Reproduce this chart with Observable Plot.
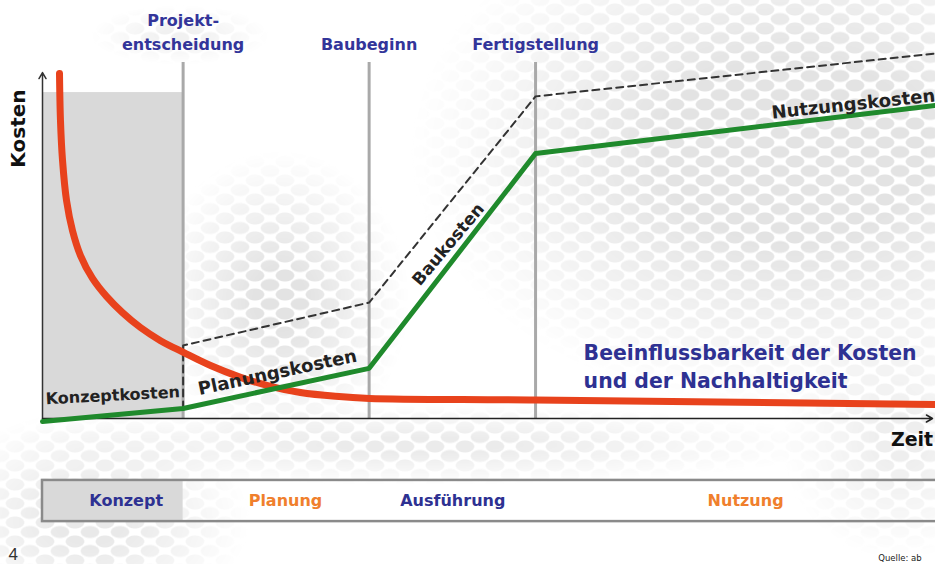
<!DOCTYPE html>
<html><head><meta charset="utf-8">
<script src="https://cdn.jsdelivr.net/npm/d3@7"></script>
<script src="https://cdn.jsdelivr.net/npm/@observablehq/plot@0.6"></script>
<style>
body{margin:0;background:#fff;}
#wrap{position:relative;width:935px;height:564px;}
#bg{position:absolute;left:0;top:0;width:935px;height:564px;
  background-image:
    radial-gradient(10px 6.5px at 50% 50%, #e3e3e3 85%, rgba(227,227,227,0) 100%),
    radial-gradient(10px 6.5px at 50% 50%, #e3e3e3 85%, rgba(227,227,227,0) 100%);
  background-size: 30px 19px, 30px 19px;
  background-position: 0 0, 15px 9.5px;
  -webkit-mask-image:
    radial-gradient(380px 260px at 790px 150px, #000 35%, rgba(0,0,0,0) 100%),
    radial-gradient(130px 150px at 280px 300px, #000 20%, rgba(0,0,0,0) 100%),
    radial-gradient(420px 40px at 420px 445px, rgba(0,0,0,0.7) 20%, rgba(0,0,0,0) 100%),
    radial-gradient(160px 110px at 90px 520px, rgba(0,0,0,0.8) 20%, rgba(0,0,0,0) 100%),
    radial-gradient(120px 120px at 900px 440px, rgba(0,0,0,0.6) 20%, rgba(0,0,0,0) 100%),
    radial-gradient(90px 30px at 180px 35px, rgba(0,0,0,0.5) 20%, rgba(0,0,0,0) 100%);
}
#chart{position:absolute;left:0;top:0;}
#chart svg{display:block;}
</style>
</head><body><div id="wrap"><div id="bg"></div><div id="chart"></div></div>
<script>
// Milestones (time units) and their labels
const milestoneNames = ["Projekt-\nentscheidung", "Baubeginn", "Fertigstellung"];
const milestoneTimes = [15.8, 36.7, 55.4];

// Phases in the bottom bar
const phaseNames = ["Konzept", "Planung", "Ausführung", "Nutzung"];
const phaseCenters = [9.4, 27.3, 46.1, 79.0];
const phaseColors = ["#2e3192", "#f07f2d", "#2e3192", "#f07f2d"];

// Cumulative cost (green)
const greenT = [0, 15.8, 36.7, 55.4, 100.3];
const greenC = [-0.9, 2.9, 14.5, 76.6, 90.5];

// Upper dashed envelope
const dashT = [15.8, 15.8, 36.7, 55.4, 100.3];
const dashC = [2.9, 21.1, 33.5, 93.1, 105.5];

// Influence on costs / sustainability (red)
const redT = [1.91, 2.02, 2.25, 2.70, 3.37, 4.27, 5.62, 7.19, 8.99, 11.01, 13.26, 15.84, 18.88, 22.25, 25.62, 28.99, 32.92, 36.74, 55.39, 100.3];
const redC = [99.7, 86.1, 74.6, 63.0, 54.3, 47.1, 40.5, 35.3, 30.6, 26.3, 22.5, 19.1, 15.3, 11.9, 9.3, 7.5, 6.4, 5.8, 5.35, 4.05];

// Labels along the cost line
const costLabels = ["Konzeptkosten", "Planungskosten", "Baukosten", "Nutzungskosten"];
const costLabelT = [7.9, 26.4, 45.6, 91.1];
const costLabelC = [6.6, 13.3, 50.3, 90.8];
const costLabelAngle = [-3, -12, -50, -6];
const costLabelSize = [16, 18, 17, 18];

// Concept phase shading height
const conceptTop = 94.2;
const axisTopC = 100;
const ruleTopC = 102.9;

const green = greenT.map((t, i) => ({t, c: greenC[i]}));
const dash = dashT.map((t, i) => ({t, c: dashC[i]}));
const red = redT.map((t, i) => ({t, c: redC[i]}));
const labels = costLabels.map((name, i) => ({name, t: costLabelT[i], c: costLabelC[i], a: costLabelAngle[i], s: costLabelSize[i]}));
const milestones = milestoneNames.map((name, i) => ({name, t: milestoneTimes[i]}));
const phases = phaseNames.map((name, i) => ({name, t: phaseCenters[i], color: phaseColors[i]}));

const font = "DejaVu Sans, Verdana, sans-serif";

const chart = Plot.plot({
  width: 935,
  height: 564,
  margin: 0,
  x: {domain: [0, 100], range: [42, 932], axis: null},
  y: {domain: [0, 100], range: [418, 72], axis: null},
  style: {fontFamily: font, background: "transparent"},
  marks: [
    // concept phase shading
    Plot.rect([0], {x1: 0, x2: milestoneTimes[0], y1: 0, y2: conceptTop, fill: "#d9d9d9"}),
    // milestone verticals
    Plot.ruleX(milestones, {x: "t", y1: 0, y2: ruleTopC, stroke: "#a9a9a9", strokeWidth: 3}),
    // axes with arrows
    Plot.arrow([0], {x1: 0, y1: 0, x2: 0, y2: axisTopC, stroke: "#333", strokeWidth: 1.5, headLength: 7}),
    Plot.arrow([0], {x1: 0, y1: 0, x2: 100, y2: 0, stroke: "#222", strokeWidth: 1.5, headLength: 7}),
    // dashed envelope
    Plot.line(dash, {x: "t", y: "c", stroke: "#333", strokeWidth: 2, strokeDasharray: "7,5"}),
    // red influence curve
    Plot.line(red, {x: "t", y: "c", stroke: "#e8421c", strokeWidth: 7, curve: "catmull-rom"}),
    // green cost curve
    Plot.line(green, {x: "t", y: "c", stroke: "#1f8a2c", strokeWidth: 5}),
    // cost labels
    Plot.text(labels, {x: "t", y: "c", text: "name", rotate: "a", fontSize: "s", fontWeight: "bold", fill: "#222"}),
    // milestone labels
    Plot.text(milestones, {x: "t", y: 106.4, text: "name", lineAnchor: "bottom", fontSize: 16, fontWeight: "bold", fill: "#33359a", lineHeight: 1.5}),
    // axis titles
    Plot.text(["Kosten"], {x: -2.7, y: 83.8, text: d => d, rotate: -90, fontSize: 20, fontWeight: "bold", fill: "#111"}),
    Plot.text(["Zeit"], {x: 97.7, y: -6.2, text: d => d, fontSize: 19, fontWeight: "bold", fill: "#111"}),
    // annotation
    Plot.text(["Beeinflussbarkeit der Kosten\nund der Nachhaltigkeit"], {x: 60.8, y: 15.5, text: d => d, textAnchor: "start", fontSize: 20.4, fontWeight: "bold", fill: "#2e3192", lineHeight: 1.38}),
    // bottom phase bar
    Plot.rect([0], {x1: 0, x2: milestoneTimes[0], y1: -17.9, y2: -29.8, fill: "#d9d9d9"}),
    Plot.rect([0], {x1: 0, x2: 100.6, y1: -17.9, y2: -29.8, fill: "none", stroke: "#8a8a8a", strokeWidth: 2.5}),
    Plot.text(phases, {x: "t", y: -23.9, text: "name", fill: "color", fontSize: 16, fontWeight: "bold"}),
    // page number and source
    Plot.text(["4"], {x: -3.3, y: -39.3, text: d => d, fontSize: 17, fill: "#333", fontFamily: "Liberation Sans, Arial, sans-serif"}),
    Plot.text(["Quelle: ab"], {x: 93.9, y: -40.4, text: d => d, textAnchor: "start", fontSize: 8.5, fill: "#222"})
  ]
});
document.getElementById("chart").appendChild(chart);
</script>
</body></html>
